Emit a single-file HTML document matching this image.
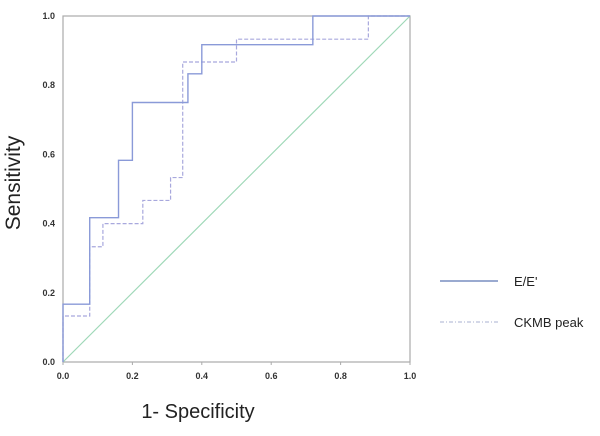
<!DOCTYPE html>
<html><head><meta charset="utf-8"><style>
body{margin:0;background:#fff;font-family:"Liberation Sans",sans-serif}
</style></head><body>
<svg width="600" height="431" viewBox="0 0 600 431">
<g id="plot"></g>
</svg>
<script>
const ticks=["0.0","0.2","0.4","0.6","0.8","1.0"];
const tickVals=[0,0.2,0.4,0.6,0.8,1.0];
const eeX=[0,0,0.077,0.077,0.16,0.16,0.2,0.2,0.36,0.36,0.4,0.4,0.72,0.72,1];
const eeY=[0,0.167,0.167,0.417,0.417,0.583,0.583,0.75,0.75,0.833,0.833,0.917,0.917,1,1];
const ckX=[0,0,0.077,0.077,0.115,0.115,0.23,0.23,0.31,0.31,0.345,0.345,0.5,0.5,0.88,0.88,1];
const ckY=[0,0.133,0.133,0.333,0.333,0.4,0.4,0.467,0.467,0.533,0.533,0.867,0.867,0.933,0.933,1,1];
const L=63,R=410,T=16,B=362;
const sx=v=>L+v*(R-L), sy=v=>B-v*(B-T);
const NS="http://www.w3.org/2000/svg";
const g=document.getElementById('plot');
function mk(t,a,txt){const e=document.createElementNS(NS,t);for(const k in a)e.setAttribute(k,a[k]);if(txt!==undefined)e.textContent=txt;g.appendChild(e);return e;}
const fr=mk('rect',{x:L,y:T,width:R-L,height:B-T,fill:'none',stroke:'#aaa','stroke-width':1.2});


tickVals.forEach((v,i)=>{
  const a=mk('text',{x:L-8,y:sy(v)+3,'text-anchor':'end','font-size':9,'font-weight':'bold',fill:'#333'},ticks[i]);
  
  
  const b=mk('text',{x:sx(v),y:B+17,'text-anchor':'middle','font-size':9,'font-weight':'bold',fill:'#333'},ticks[i]);
  
  
  const t1=mk('line',{x1:sx(v),x2:sx(v),y1:B,y2:B+3,stroke:'#aaa'});
  
  
});
const d=mk('line',{x1:sx(0),y1:sy(0),x2:sx(1),y2:sy(1),stroke:'#9fd8b8','stroke-width':1.2});


const pts=(xs,ys)=>xs.map((x,i)=>sx(x)+','+sy(ys[i])).join(' ');
const ck=mk('polyline',{points:pts(ckX,ckY),fill:'none',stroke:'#a8a8dd','stroke-width':1.2,'stroke-dasharray':'4,2'});


const ee=mk('polyline',{points:pts(eeX,eeY),fill:'none',stroke:'#8a9ad8','stroke-width':1.4});


const yl=mk('text',{x:0,y:0,transform:'translate(20,183) rotate(-90)','text-anchor':'middle','font-size':21,fill:'#222'},'Sensitivity');


const xl=mk('text',{x:198,y:418,'text-anchor':'middle','font-size':20,fill:'#222'},'1- Specificity');


const l1=mk('line',{x1:440,x2:498,y1:281,y2:281,stroke:'#9aaad0','stroke-width':2});


const t1=mk('text',{x:514,y:286,'font-size':13,fill:'#222'},"E/E'");


const l2=mk('line',{x1:440,x2:498,y1:322,y2:322,stroke:'#a8b0d0','stroke-width':1,'stroke-dasharray':'4,2,1,2'});


const t2=mk('text',{x:514,y:327,'font-size':13,fill:'#222'},'CKMB peak');


</script>
</body></html>
